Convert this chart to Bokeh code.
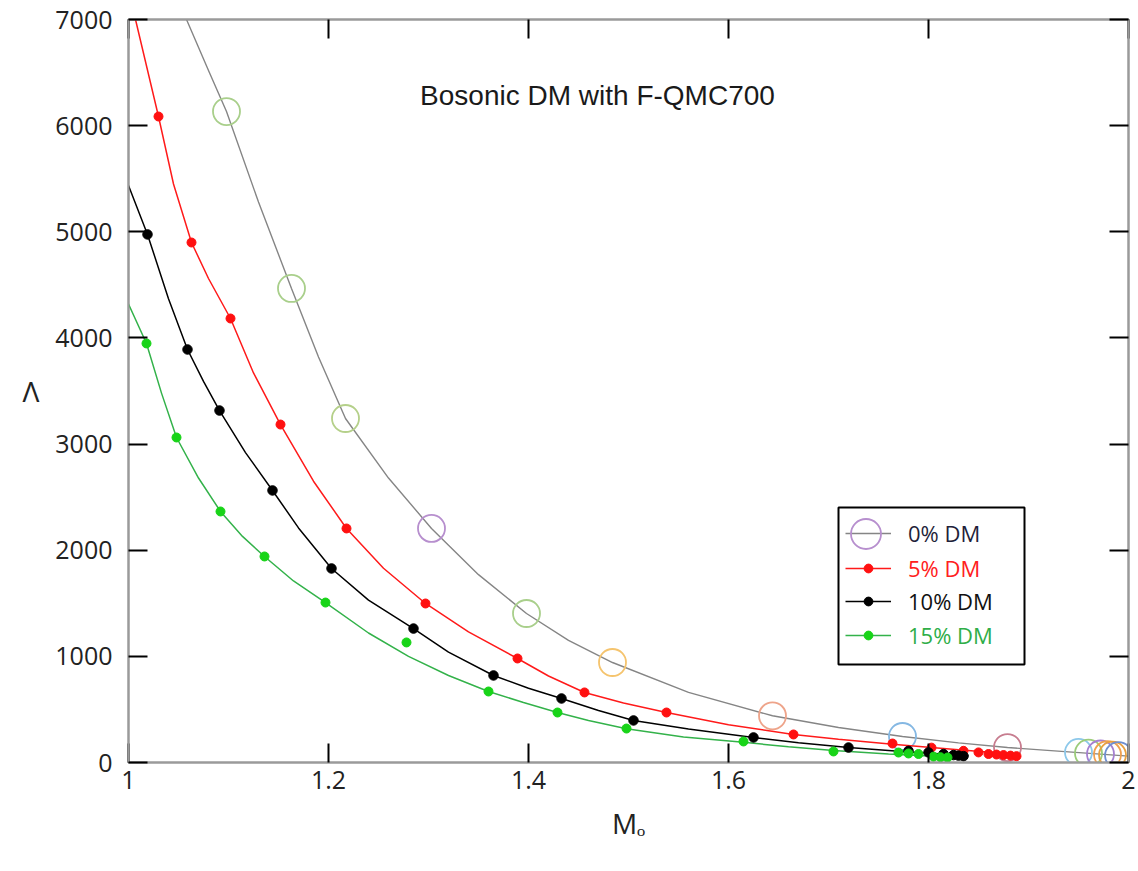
from bokeh.plotting import figure
from bokeh.models import (Range1d, LinearAxis, FixedTicker, Legend, LegendItem,
                          BoxAnnotation, ColumnDataSource, Label)
from bokeh.embed import file_html
from bokeh.resources import INLINE

# ---------------- data ----------------
x_ticks = [1.0, 1.2, 1.4, 1.6, 1.8, 2.0]
x_tick_labels = {1: "1", 1.2: "1.2", 1.4: "1.4", 1.6: "1.6", 1.8: "1.8", 2: "2"}
y_ticks = [0, 1000, 2000, 3000, 4000, 5000, 6000, 7000]

# 0% DM (open circles, each with its own colour)
dm0_x = [1.098, 1.163, 1.217, 1.303, 1.398, 1.484, 1.644, 1.774, 1.879,
         1.950, 1.960, 1.972, 1.979, 1.984, 1.990]
dm0_y = [6133, 4466, 3241, 2205, 1404, 942, 440, 245, 141,
         95, 88, 80, 75, 70, 65]
dm0_colors = ["#a9cf8b", "#a9cf8b", "#b5d08a", "#b78fce", "#a9cf8b", "#f5c46e",
              "#eea48a", "#85b8e3", "#c77d8f", "#8cc8ea", "#9ccc7a", "#a57fd0",
              "#f0a050", "#e8a040", "#6f8fd0"]
# fitted curve
dm0_fit_x = [1.058, 1.08, 1.098, 1.13, 1.163, 1.19, 1.217, 1.26, 1.303, 1.35,
             1.398, 1.44, 1.484, 1.56, 1.644, 1.71, 1.774, 1.83, 1.879, 1.94, 2.00]
dm0_fit_y = [7000, 6520, 6133, 5280, 4466, 3820, 3241, 2680, 2205, 1770,
             1404, 1150, 942, 660, 440, 330, 245, 185, 141, 100, 60]

# 5% DM
dm5_x = [1.030, 1.063, 1.102, 1.152, 1.218, 1.297, 1.389, 1.456, 1.538, 1.665,
         1.764, 1.803, 1.835, 1.850, 1.860, 1.868, 1.875, 1.882, 1.888]
dm5_y = [6086, 4899, 4183, 3184, 2205, 1498, 980, 660, 471, 264,
         179, 140, 110, 95, 80, 75, 70, 65, 60]
dm5_fit_x = [1.007, 1.03, 1.045, 1.063, 1.08, 1.102, 1.125, 1.152, 1.185, 1.218,
             1.255, 1.297, 1.34, 1.389, 1.42, 1.456, 1.495, 1.538, 1.60, 1.665,
             1.71, 1.764, 1.83, 1.89]
dm5_fit_y = [7000, 6086, 5450, 4899, 4560, 4183, 3670, 3184, 2650, 2205,
             1830, 1498, 1230, 980, 815, 660, 560, 471, 355, 264,
             218, 172, 120, 75]

# 10% DM
dm10_x = [1.019, 1.059, 1.091, 1.144, 1.203, 1.285, 1.365, 1.433, 1.505, 1.625,
          1.720, 1.780, 1.800, 1.815, 1.825, 1.830, 1.835]
dm10_y = [4975, 3891, 3316, 2563, 1828, 1262, 820, 603, 396, 236,
          141, 110, 95, 80, 70, 65, 60]
dm10_fit_x = [1.0, 1.019, 1.04, 1.059, 1.075, 1.091, 1.117, 1.144, 1.17, 1.203,
              1.24, 1.285, 1.32, 1.365, 1.40, 1.433, 1.47, 1.505, 1.56, 1.625,
              1.67, 1.72, 1.78, 1.84]
dm10_fit_y = [5436, 4975, 4370, 3891, 3590, 3316, 2920, 2563, 2210, 1828,
              1530, 1262, 1040, 820, 700, 603, 490, 396, 315, 236,
              185, 141, 100, 65]

# 15% DM
dm15_x = [1.018, 1.048, 1.092, 1.136, 1.197, 1.278, 1.360, 1.429, 1.498, 1.615,
          1.705, 1.770, 1.780, 1.790, 1.805, 1.812, 1.819]
dm15_y = [3948, 3062, 2365, 1941, 1507, 1131, 669, 471, 320, 198,
          104, 94, 85, 80, 55, 50, 47]
dm15_fit_x = [1.0, 1.018, 1.033, 1.048, 1.07, 1.092, 1.114, 1.136, 1.165, 1.197,
              1.24, 1.28, 1.32, 1.36, 1.395, 1.429, 1.46, 1.498, 1.555, 1.615,
              1.66, 1.705, 1.76, 1.82]
dm15_fit_y = [4320, 3948, 3480, 3062, 2680, 2365, 2130, 1941, 1710, 1507,
              1220, 1000, 820, 669, 565, 471, 395, 318, 240, 190,
              148, 112, 80, 52]

series_labels = ["0% DM", "5% DM", "10% DM", "15% DM"]
title_text = "Bosonic DM with F-QMC700"

# ---------------- figure ----------------
AX_GRAY = "#9a9a9a"
TICK_FONT = "Open Sans"

p = figure(width=1138, height=871, output_backend="svg", toolbar_location=None,
           x_range=Range1d(1, 2), y_range=Range1d(0, 7000),
           min_border_left=128, min_border_right=10, min_border_top=19,
           min_border_bottom=109, background_fill_color="white",
           border_fill_color="white")
p.grid.visible = False
p.outline_line_color = AX_GRAY
p.outline_line_width = 2

for ax in (p.xaxis[0], p.yaxis[0]):
    ax.axis_line_color = AX_GRAY
    ax.axis_line_width = 2
    ax.major_tick_line_color = "black"
    ax.major_tick_line_width = 2
    ax.major_tick_in = 19
    ax.major_tick_out = 0
    ax.minor_tick_line_color = None
    ax.major_label_text_font = TICK_FONT
    ax.major_label_text_font_size = "25px"
    ax.major_label_text_color = "#222222"
    ax.axis_label_text_font = TICK_FONT
    ax.axis_label_text_font_style = "normal"
    ax.axis_label_text_font_size = "28px"
    ax.axis_label_text_color = "#222222"

p.xaxis.ticker = FixedTicker(ticks=x_ticks)
p.xaxis.major_label_overrides = x_tick_labels
p.xaxis.major_label_standoff = 8
p.xaxis.axis_label = "M\u2092"
p.xaxis.axis_label_standoff = 12

p.yaxis.ticker = FixedTicker(ticks=y_ticks)
p.yaxis.major_label_standoff = 16
p.yaxis.axis_label = "\u039b"
p.yaxis.axis_label_standoff = 13
try:
    p.yaxis.axis_label_orientation = "horizontal"
except Exception:
    pass


def mirror_axis(ticks):
    return LinearAxis(ticker=FixedTicker(ticks=ticks), major_label_text_font_size="1px",
                      major_label_text_color=None, major_label_standoff=0,
                      major_tick_in=19, major_tick_out=0,
                      minor_tick_line_color=None, axis_line_color=AX_GRAY,
                      axis_line_width=2, major_tick_line_color="black",
                      major_tick_line_width=2)


p.add_layout(mirror_axis(x_ticks), "above")
p.add_layout(mirror_axis(y_ticks), "right")

# ---------------- curves and points ----------------
l0 = p.line(dm0_fit_x, dm0_fit_y, line_color="#858585", line_width=1.4)
src0 = ColumnDataSource(dict(x=dm0_x, y=dm0_y, c=dm0_colors))
s0 = p.scatter("x", "y", source=src0, marker="circle", size=27, fill_color=None,
               line_color="c", line_width=1.8)

l5 = p.line(dm5_fit_x, dm5_fit_y, line_color="#ff1a1a", line_width=1.5)
l10 = p.line(dm10_fit_x, dm10_fit_y, line_color="black", line_width=1.5)
l15 = p.line(dm15_fit_x, dm15_fit_y, line_color="#33b24a", line_width=1.5)

s5 = p.scatter(dm5_x, dm5_y, marker="circle", size=9, fill_color="#ff1010",
               line_color="#ff1010")
s10 = p.scatter(dm10_x, dm10_y, marker="circle", size=9.5, fill_color="black",
                line_color="black")
s15 = p.scatter(dm15_x, dm15_y, marker="circle", size=9, fill_color="#18d418",
                line_color="#18d418")

# ---------------- title ----------------
p.add_layout(Label(x=1.469, y=6285, text=title_text, text_align="center",
                   text_baseline="middle", text_font="Liberation Sans",
                   text_font_size="28px", text_color="#1a1a1a"))

# ---------------- legend ----------------
p.add_layout(BoxAnnotation(left=1.710, right=1.896, bottom=923, top=2402,
                           fill_color="white", fill_alpha=1.0,
                           line_color="black", line_alpha=1.0, line_width=2))

items = [
    (LegendItem(label=series_labels[0], renderers=[l0]), 214, "#1f1f3a"),
    (LegendItem(label=series_labels[1], renderers=[l5, s5]), 179, "#ff2020"),
    (LegendItem(label=series_labels[2], renderers=[l10, s10]), 146, "#111111"),
    (LegendItem(label=series_labels[3], renderers=[l15, s15]), 112, "#2fae48"),
]
for it, yoff, col in items:
    lg = Legend(items=[it], location=(717, yoff), orientation="vertical",
                glyph_width=46, glyph_height=22, label_height=30, label_standoff=17,
                padding=0, margin=0, spacing=0, border_line_alpha=0,
                background_fill_alpha=0, label_text_color=col,
                label_text_font=TICK_FONT, label_text_font_size="22px")
    p.add_layout(lg)

# large open circle of the 0% DM legend entry (uses the purple point's colour)
circle_legend = Legend(items=[LegendItem(label=" ", renderers=[s0], index=3)],
                       location=(700, 191), glyph_width=75, glyph_height=75,
                       label_width=0, label_standoff=0, padding=0, margin=0,
                       spacing=0, border_line_alpha=0, background_fill_alpha=0,
                       label_text_font_size="1px")
p.add_layout(circle_legend)

open("out.html", "w").write(file_html(p, INLINE))
